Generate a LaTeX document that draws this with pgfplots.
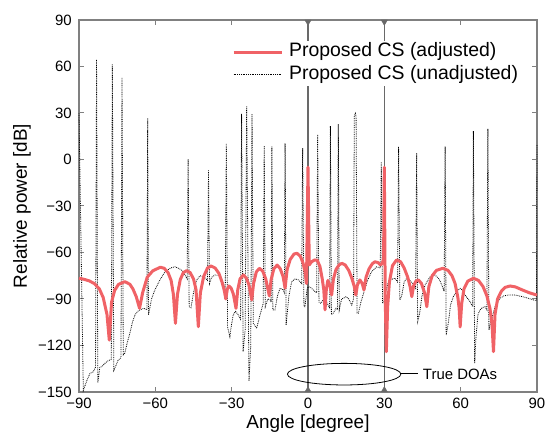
\documentclass[border=0pt]{standalone}
\usepackage{pgfplots}
\pgfplotsset{compat=1.18}
\usepackage{fontspec}
\setmainfont{Liberation Sans}
\definecolor{adj}{RGB}{240,98,102}
\definecolor{axgray}{RGB}{128,128,128}
\definecolor{doa}{RGB}{105,105,105}
\begin{document}
\begin{tikzpicture}
\begin{axis}[
 name=ax,
 scale only axis, width=458bp, height=372bp,
 xmin=-90,xmax=90,ymin=-150,ymax=90,
 xtick={-90,-60,...,90},
 xticklabels={−90,−60,−30,0,30,60,90},
 ytick={-150,-120,...,90},
 yticklabels={−150,−120,−90,−60,−30,0,30,60,90},
 tick align=inside,
 major tick length=5bp,
 axis line style={draw=axgray, line width=1.2bp},
 tick style={draw=axgray, line width=1bp},
 ticklabel style={font=\fontsize{15}{18}\selectfont},
 xticklabel style={inner sep=0pt, yshift=-6bp},
 yticklabel style={inner sep=0pt, xshift=-7bp},
 xlabel={Angle [degree]},
 ylabel={Relative power [dB]},
 label style={font=\fontsize{19}{23}\selectfont},
 xlabel style={at={(axis description cs:0.5,-0.0968)}, anchor=base, inner sep=0pt},
 ylabel style={at={(axis description cs:-0.105,0.5)}, anchor=south, inner sep=0pt},
 clip=false,
 reverse legend,
 legend cell align=left,
 legend style={at={(axis cs:-29.9,76.6)}, anchor=north west, draw=none, fill=white,
   inner xsep=0pt, inner ysep=0pt, font=\fontsize{19.5}{23}\selectfont, row sep=0pt,
   nodes={inner xsep=0pt, inner ysep=2bp, text depth=4.5bp, text height=14bp}},
 legend image code/.code={\draw[#1] (0bp,0bp) -- (48bp,0bp); \path (54bp,0bp);},
]
\addplot[doa, line width=1.2bp, forget plot] coordinates {(0,-150) (0,90)};
\addplot[doa, line width=1.2bp, forget plot] coordinates {(30,-150) (30,90)};
\addplot[forget plot, only marks, mark=triangle*, mark size=3.6bp, mark options={fill=doa, draw=doa, yshift=1.8bp}] coordinates {(0,-150) (30,-150)};
\addplot[forget plot, only marks, mark=triangle*, mark size=3.6bp, mark options={fill=doa, draw=doa, yshift=-1.8bp, rotate=180}] coordinates {(0,90) (30,90)};

\addplot[black, densely dotted, line width=0.8bp] coordinates {
(-90,29.8) (-88.3,-149) (-87,-143) (-85.7,-138) (-84.4,-137) (-83.5,-134) (-83.1,64.6) (-82.6,-144) (-81.8,-134) (-81.1,-133.7) (-79.5,-131) (-78.5,-129.8) (-77.3,-129) (-76.9,61.6) (-76.3,-136) (-75.5,-133) (-74.6,-129.4) (-73.5,-128) (-73.1,53) (-72.6,-126) (-72,-125) (-71,-118) (-70,-112) (-69,-105) (-68,-100.3) (-67,-98) (-66.1,-97.1) (-64.5,-96) (-63.3,-97) (-63,26.6) (-62.7,-100.3) (-61.5,-90) (-60.2,-84.2) (-58.2,-77.7) (-56.2,-72.4) (-54,-70) (-52.3,-69.2) (-50.5,-70.5) (-49,-72.4) (-47.5,-77) (-47.1,0.3) (-46.7,-95) (-46,-95.6) (-45,-86) (-43.8,-78) (-42.5,-75) (-41,-75.5) (-39.5,-78) (-39.1,-7.1) (-38.7,-80) (-37.9,-76) (-36.5,-74.5) (-34.6,-75) (-33.5,-79) (-32.5,-84) (-32.1,10.4) (-31.6,-108) (-30.7,-114.3) (-30.1,-107) (-29.4,-100.3) (-28.5,-98) (-27.5,-100) (-26.5,-103) (-26.1,29.4) (-25.5,-124) (-24.7,-110) (-24.1,34.5) (-23.2,-143) (-22.5,-120) (-22,29.4) (-21.5,-105.7) (-20.2,-108.9) (-18.8,-100) (-17.6,-93) (-17.2,8.9) (-16.8,-95) (-15.8,-90) (-14.9,-90.6) (-14.5,-92) (-14.2,8.3) (-13.8,-97) (-13,-97.1) (-12,-88) (-11,-83.1) (-9.8,-84) (-9.3,-86) (-9,10.4) (-8.6,-106.8) (-7.5,-88) (-6.4,-78.8) (-5,-77) (-3.8,-77.7) (-2.5,-80) (-2.1,7.4) (-1.6,-95) (-1.2,-95) (-0.4,-84) (0.1,-82.1) (1,-82.5) (2.1,-84.2) (3.4,-86) (3.8,16.2) (4.3,-92) (5.1,-92.8) (6.2,-90) (7.3,-92) (8.5,-96) (8.8,21.6) (9.2,-100) (10,-99) (11,-96) (11.6,-97) (11.9,22.9) (12.3,-97) (13.2,-90) (13.9,-89.5) (15,-88.5) (16,-90) (17.2,-93.9) (17.9,-90) (18.2,28) (18.6,29.8) (18.9,28) (19.3,-99) (19.8,-99.2) (20.8,-92) (21.8,-86.5) (23.4,-78) (25,-72.4) (27,-69.2) (28.4,-70) (28.8,-1.8) (29.3,-92.8) (29.8,-92) (30.6,-85) (31.4,-80) (32.2,-77.7) (34.2,-76.6) (35.2,-79) (35.6,8.3) (36.1,-90.6) (36.8,-88) (37.8,-79) (38.8,-76.6) (40,-78) (41.2,-80) (42.3,-83) (42.7,4) (43.1,-104.7) (43.8,-100) (44.8,-88) (46,-81) (48,-75.6) (49.9,-74.5) (51.5,-77) (52.6,-81) (53.5,-85) (53.9,8.3) (54.3,-113.2) (55.2,-105) (56,-94) (57.1,-88.5) (58.5,-85) (59.8,-83.1) (60.8,-84.5) (61.7,-87.4) (63.7,-91.7) (64.7,-95) (65,18.4) (65.5,-131.5) (66,-115) (66.8,-100) (67.6,-97.1) (68.6,-95.5) (69.6,-95) (70.3,-97) (70.7,19.7) (71.1,-110) (72,-104) (73.5,-95) (75.5,-89.5) (77,-88) (78.8,-87.4) (81.4,-87.4) (83.5,-88.2) (85.3,-88.9) (88.6,-90.6) (89.8,-91) (90,9.4)
};
\addlegendentry{Proposed CS (unadjusted)}

\addplot[adj, line width=3bp, line join=round] coordinates {
(-90,-76.6) (-88,-77.3) (-86,-78.3) (-84,-80) (-82,-83.5) (-80.5,-89) (-79,-100) (-78.1,-116.5) (-77.2,-92) (-76,-84.5) (-74.5,-80.6) (-72,-78.8) (-70,-80.5) (-68.8,-83.5) (-67.5,-88.5) (-66.2,-96) (-65,-86) (-63.2,-76) (-61,-71.8) (-58,-69.5) (-56.5,-70.2) (-55,-73) (-53.8,-78) (-52.9,-87) (-52.1,-105.7) (-51.3,-87) (-50.2,-77.5) (-49,-73) (-47.7,-71.7) (-46.3,-73) (-45,-77) (-44,-84) (-43.1,-107.9) (-42.3,-86) (-41,-75.5) (-39.5,-70) (-38.1,-68.7) (-36.5,-70) (-35,-73.5) (-33.8,-79) (-32.9,-84.5) (-32.3,-90) (-31.7,-83.5) (-31.1,-81.6) (-30.2,-83) (-29.3,-87) (-28.3,-96) (-27.6,-84) (-26.7,-77) (-25.4,-74.5) (-24.2,-76.5) (-23.2,-81) (-22.1,-90.6) (-21.4,-80) (-20.3,-72.5) (-19.1,-70.2) (-17.8,-72) (-16.6,-77) (-15.2,-88) (-14.5,-77.5) (-13.4,-70.5) (-12.1,-68.1) (-10.9,-70.5) (-9.8,-75.5) (-9.0,-83) (-8.2,-71) (-7,-64.5) (-5.5,-61) (-4.3,-60.5) (-3,-62.5) (-2,-66.5) (-1.2,-72) (-0.6,-80) (0,-5) (0.5,-68) (1.4,-66) (2.6,-64.8) (3.6,-65) (4.7,-69) (5.6,-77) (6.2,-84) (6.7,-97) (7.2,-84) (7.8,-78) (8.6,-81) (9.3,-87.4) (10.0,-77) (11.0,-71) (12.2,-68) (13.3,-67) (14.6,-68) (16.0,-71.5) (17.2,-76.5) (18.2,-82) (18.8,-87.4) (19.4,-81) (20.4,-77.7) (21.3,-80) (22,-84.2) (22.8,-76) (24,-70.5) (25.3,-67.2) (26.3,-66) (27.5,-66.5) (28.5,-68) (29.2,-67) (29.7,-64) (30,-5) (30.35,-90) (30.8,-124) (31.3,-95) (32.0,-79) (33.2,-68.5) (34.8,-64.8) (36.4,-66) (37.8,-70) (39.2,-76) (40.2,-82.5) (40.8,-88.5) (41.5,-81.5) (42.4,-78.5) (43.4,-77.7) (44.6,-80) (45.8,-86) (46.7,-95) (47.5,-82) (48.8,-75) (50.5,-71.5) (53,-70.2) (55,-71.5) (56.6,-75) (57.8,-80) (58.9,-89) (59.4,-96) (59.8,-108) (60.4,-93) (61.3,-83.5) (62.8,-78.5) (65,-76.6) (67,-78) (68.8,-82) (70.3,-88) (71.5,-96) (72.3,-106) (72.9,-124) (73.5,-100) (74.5,-90) (76,-85) (77.5,-82.5) (79.4,-81.6) (81.5,-82.2) (84,-84) (87,-86) (90,-87.5)
};
\addlegendentry{Proposed CS (adjusted)}

\draw[black, line width=0.8bp] (axis cs:14.2,-138.5) ellipse [x radius=56.7bp, y radius=10.8bp];
\draw[black, line width=0.8bp] (axis cs:36.5,-138) -- (axis cs:43.4,-138);
\node[anchor=west, inner sep=0pt, font=\fontsize{15}{18}\selectfont] at (axis cs:45.1,-138.5) {True DOAs};
\end{axis}
\pgfresetboundingbox
\path[use as bounding box] ([xshift=-79bp,yshift=-43bp]ax.south west) rectangle ([xshift=10bp,yshift=20bp]ax.north east);
\end{tikzpicture}
\end{document}
